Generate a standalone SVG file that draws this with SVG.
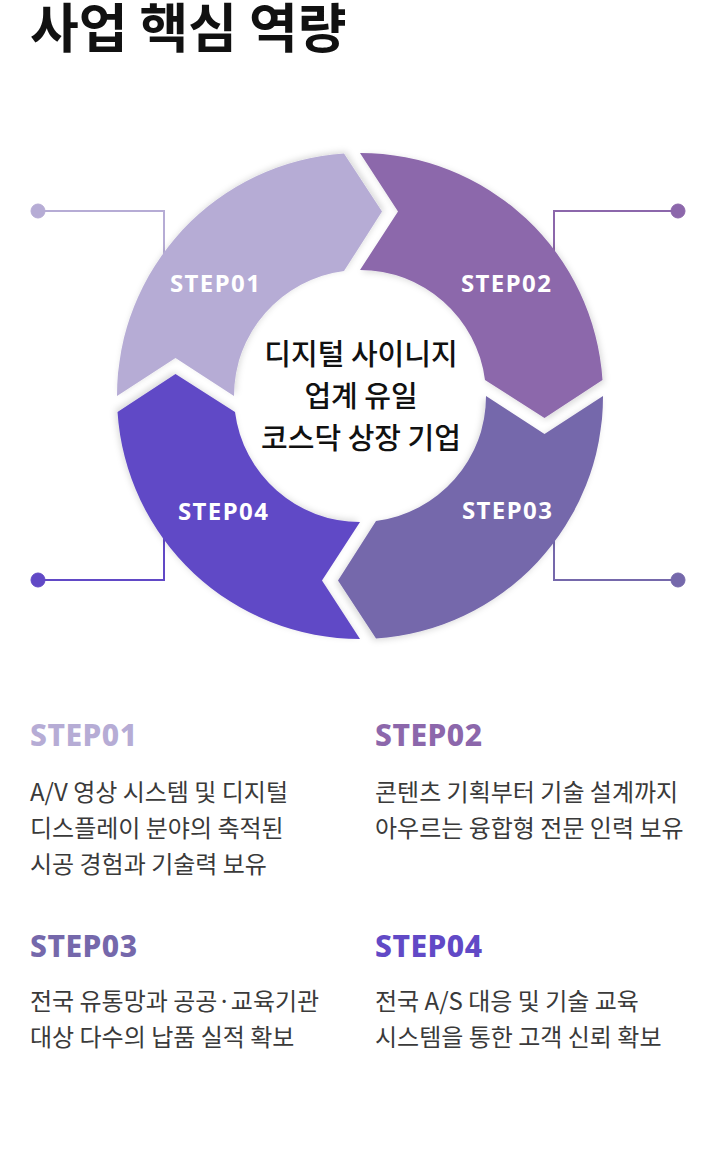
<svg xmlns="http://www.w3.org/2000/svg" width="720" height="1163" viewBox="0 0 720 1163">
<style>
.title{font-family:"Noto Sans CJK KR","Noto Sans",sans-serif;font-weight:700;font-size:53px;fill:#111;}
.ring-label{font-family:"Noto Sans","Noto Sans CJK KR",sans-serif;font-weight:700;font-size:24px;fill:#fff;letter-spacing:1.4px;}
.center{font-family:"Noto Sans CJK KR",sans-serif;font-weight:500;font-size:29px;fill:#111;text-anchor:middle;}
.head{font-family:"Noto Sans","Noto Sans CJK KR",sans-serif;font-weight:800;font-size:30px;letter-spacing:0.5px;}
.body{font-family:"Noto Sans CJK KR",sans-serif;font-weight:400;font-size:24px;fill:#3a3a3a;}
.conn{fill:none;stroke-width:2;}
.c1{fill:#b6acd5;stroke:#b6acd5;}
.c2{fill:#8c67ab;stroke:#8c67ab;}
.c3{fill:#7568ab;stroke:#7568ab;}
.c4{fill:#6149c6;stroke:#6149c6;}
.seg{stroke:none;filter:url(#sh);}
</style>
<defs>
<filter id="sh" x="-20%" y="-20%" width="140%" height="140%">
<feDropShadow dx="2" dy="2" stdDeviation="3" flood-color="#000" flood-opacity="0.15"/>
</filter>
<path id="segpath" d="M0,-243 A243,243 0 0 1 242.5,-16 L184.5,22 L125,-16 A126,126 0 0 0 0,-126 L38,-184.5 Z"/>
</defs>
<rect width="720" height="1163" fill="#fff"/>
<text class="title" x="30" y="48">사업 핵심 역량</text>

<g id="connectors">
<polyline class="conn c1" style="fill:none" points="38,211 164,211 164,275"/>
<circle class="c1" cx="38" cy="211" r="7"/>
<polyline class="conn c2" style="fill:none" points="678,211 554,211 554,275"/>
<circle class="c2" cx="678" cy="211" r="7"/>
<polyline class="conn c3" style="fill:none" points="678,580 554,580 554,515"/>
<circle class="c3" cx="678" cy="580" r="7"/>
<polyline class="conn c4" style="fill:none" points="38,580 164,580 164,515"/>
<circle class="c4" cx="38" cy="580" r="7"/>
</g>

<g id="step01-seg">
<use href="#segpath" class="seg c1" transform="translate(360,396) rotate(270)"/>
<text class="ring-label" x="170" y="292">STEP01</text>
</g>
<g id="step02-seg">
<use href="#segpath" class="seg c2" transform="translate(360,396)"/>
<text class="ring-label" x="461" y="292">STEP02</text>
</g>
<g id="step03-seg">
<use href="#segpath" class="seg c3" transform="translate(360,396) rotate(90)"/>
<text class="ring-label" x="462" y="519">STEP03</text>
</g>
<g id="step04-seg">
<use href="#segpath" class="seg c4" transform="translate(360,396) rotate(180)"/>
<text class="ring-label" x="178" y="520">STEP04</text>
</g>

<g id="center">
<text class="center" x="361" y="365">디지털 사이니지</text>
<text class="center" x="361" y="407">업계 유일</text>
<text class="center" x="361" y="449">코스닥 상장 기업</text>
</g>

<g id="step01">
<text class="head" x="30" y="746" fill="#b6acd5">STEP01</text>
<text class="body" x="30" y="801">A/V 영상 시스템 및 디지털</text>
<text class="body" x="30" y="837">디스플레이 분야의 축적된</text>
<text class="body" x="30" y="873">시공 경험과 기술력 보유</text>
</g>
<g id="step02">
<text class="head" x="375" y="746" fill="#8c67ab">STEP02</text>
<text class="body" x="375" y="801">콘텐츠 기획부터 기술 설계까지</text>
<text class="body" x="375" y="837">아우르는 융합형 전문 인력 보유</text>
</g>
<g id="step03">
<text class="head" x="30" y="957" fill="#7568ab">STEP03</text>
<text class="body" x="30" y="1010">전국 유통망과 공공·교육기관</text>
<text class="body" x="30" y="1046">대상 다수의 납품 실적 확보</text>
</g>
<g id="step04">
<text class="head" x="375" y="957" fill="#6149c6">STEP04</text>
<text class="body" x="375" y="1010">전국 A/S 대응 및 기술 교육</text>
<text class="body" x="375" y="1046">시스템을 통한 고객 신뢰 확보</text>
</g>
</svg>
